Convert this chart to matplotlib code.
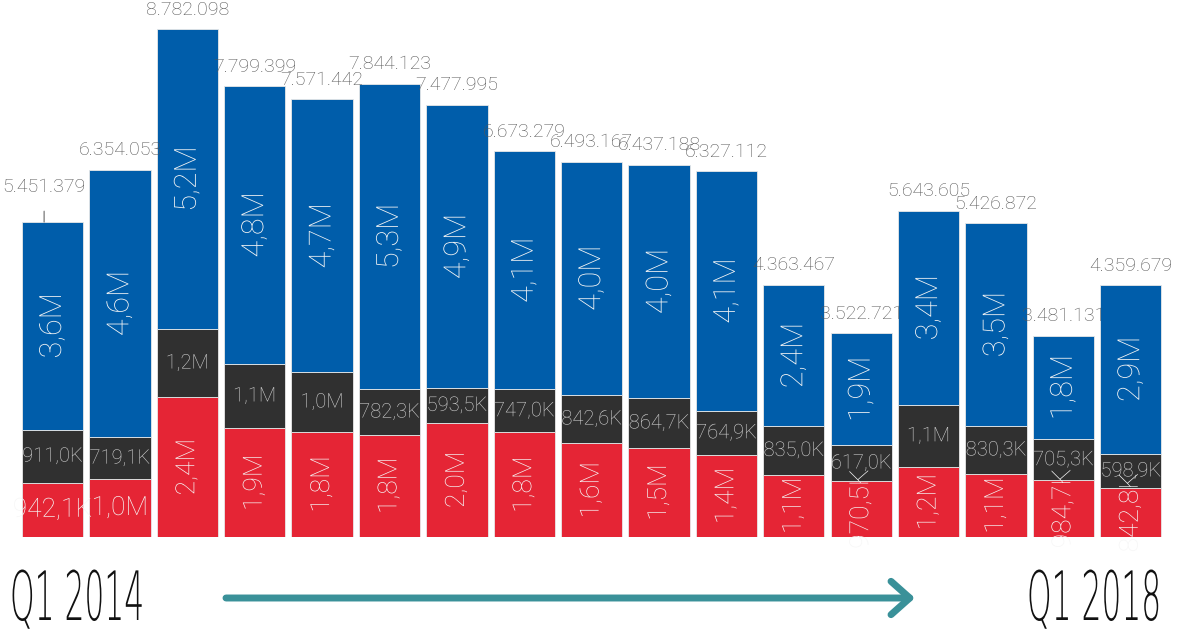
import matplotlib
matplotlib.use("Agg")
import matplotlib.pyplot as plt
from matplotlib.patches import Rectangle, FancyArrowPatch
from matplotlib.patheffects import AbstractPathEffect, Normal
from matplotlib.transforms import Affine2D, offset_copy

# ------------ data --------------------
totals = [5451379, 6354053, 8782098, 7799399, 7571442, 7844123, 7477995, 6673279,
          6493167, 6437188, 6327112, 4363467, 3522721, 5643605, 5426872, 3481131, 4359679]
red = [942100, 1004000, 2420000, 1880000, 1820000, 1770000, 1980000, 1810000,
       1620000, 1540000, 1420000, 1080000, 970500, 1210000, 1090000, 984700, 842800]
dark = [911000, 719100, 1180000, 1120000, 1030000, 782300, 593500, 747000,
        842600, 864700, 764900, 835000, 617000, 1080000, 830300, 705300, 598900]
blue = [3598279, 4630953, 5182098, 4799399, 4721442, 5291823, 4904495, 4116279,
        4030567, 4032488, 4142212, 2448467, 1935221, 3353605, 3506572, 1791131, 2917979]
start_label = "Q1 2014"
end_label = "Q1 2018"

C_RED = "#E52535"
C_DARK = "#303030"
C_BLUE = "#005DAA"
LBL = ["Roboto", "DejaVu Sans"]


def short(v):
    if v >= 1e6:
        return f"{v/1e6:.1f}M".replace(".", ",")
    return f"{v/1e3:.1f}K".replace(".", ",")


def dotted(v):
    return f"{v:,}".replace(",", ".")


class Squeeze(AbstractPathEffect):
    # narrow the glyphs horizontally (condensed look)
    def __init__(self, sx):
        super().__init__()
        self.sx = sx

    def draw_path(self, renderer, gc, tpath, affine, rgbFace=None):
        renderer.draw_path(gc, tpath, Affine2D().scale(self.sx, 1) + affine, rgbFace)


fig = plt.figure(figsize=(11.86, 6.33), dpi=100)
ax = fig.add_axes([0, 96/633, 1, 537/633])
x = list(range(len(totals)))
w = 0.91

ax.bar(x, red, w, color=C_RED, edgecolor="#e8e8e8", linewidth=0.6)
ax.bar(x, dark, w, bottom=red, color=C_DARK, edgecolor="#e8e8e8", linewidth=0.6)
bot2 = [r + d for r, d in zip(red, dark)]
ax.bar(x, blue, w, bottom=bot2, color=C_BLUE, edgecolor="#e8e8e8", linewidth=0.6)

ax.set_xlim(-0.779, 16.82)
ax.set_ylim(0, 9.29e6)
ax.axis("off")

for i in x:
    clip = Rectangle((i - w/2, 0), w, totals[i], transform=ax.transData)
    # red
    rot = 0 if i < 2 else 90
    t = ax.text(i, red[i]/2, short(red[i]), ha="center", va="center", rotation=rot,
                fontsize=19, color="#f6f6f6", family=LBL, weight="light",
                path_effects=[Normal()])
    t.set_clip_path(clip)
    # dark
    t = ax.text(i, red[i] + dark[i]/2, short(dark[i]), ha="center", va="center",
                fontsize=14.5, color="#d8d8d8", family=LBL, weight="light",
                path_effects=[Normal()])
    t.set_clip_path(clip)
    # blue
    t = ax.text(i, bot2[i] + blue[i]/2, short(blue[i]), ha="center", va="center",
                rotation=90, fontsize=22, color="#f6f6f6", family=LBL, weight="light",
                path_effects=[Normal()])
    t.set_clip_path(clip)

# totals (first one sits higher with a leader tick)
for i in x:
    if i == 0:
        ax.annotate(dotted(totals[i]), (i, totals[i]),
                    xycoords=offset_copy(ax.transData, fig=fig, x=-6, y=0, units="points"),
                    xytext=(0, 25), textcoords="offset points",
                    ha="center", va="center", fontsize=14, color="#555555",
                    family=LBL, weight="light", annotation_clip=False,
                    arrowprops=dict(arrowstyle="-", color="#9a9a9a", lw=1.2,
                                    shrinkA=9, shrinkB=0, relpos=(0.5, 0)))
    else:
        ax.annotate(dotted(totals[i]), (i, totals[i]), xytext=(0, 14), textcoords="offset points",
                    ha="center", va="center", fontsize=14, color="#555555",
                    family=LBL, weight="light", annotation_clip=False)

# bottom timeline
fig.text(10/1186, 13/633, start_label, ha="left", va="baseline", fontsize=49,
         family="DejaVu Sans", weight="light", color="#111111", path_effects=[Squeeze(0.46)])
fig.text(1027/1186, 13/633, end_label, ha="left", va="baseline", fontsize=49,
         family="DejaVu Sans", weight="light", color="#111111", path_effects=[Squeeze(0.46)])
fig.patches.append(FancyArrowPatch(
    (226/1186, 35/633), (915/1186, 35/633), transform=fig.transFigure,
    arrowstyle="->,head_length=0.45,head_width=0.4", mutation_scale=30,
    lw=5, color="#3A9199", capstyle="round", joinstyle="round",
    shrinkA=0, shrinkB=0))

fig.savefig("out.png", dpi=100)
